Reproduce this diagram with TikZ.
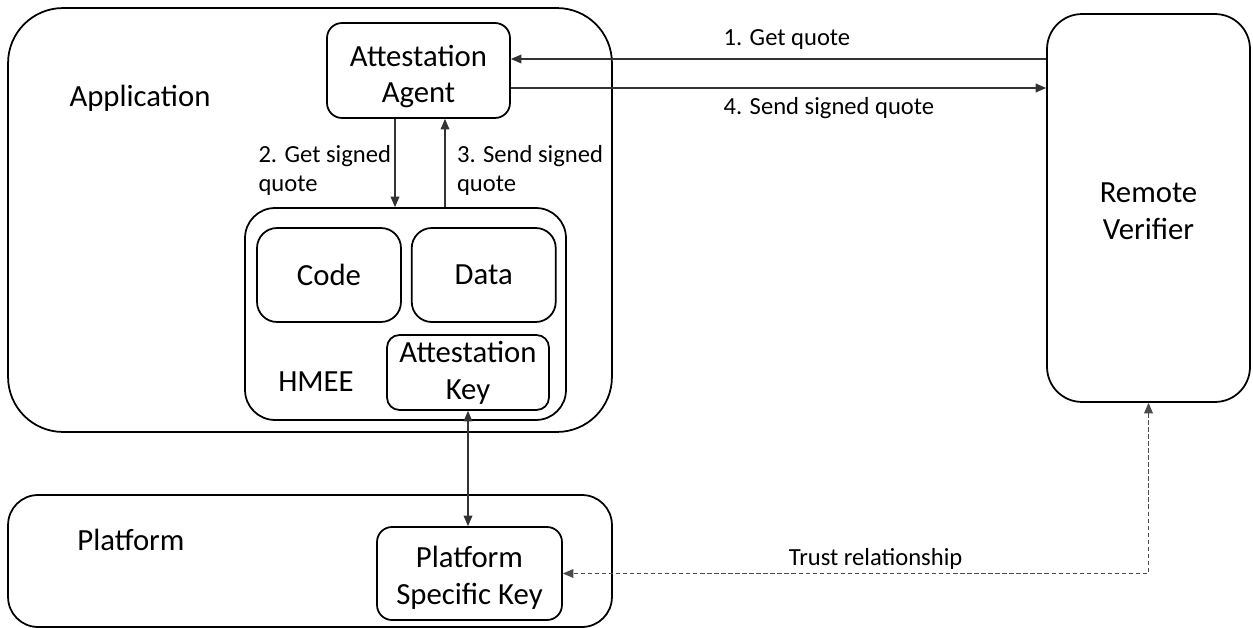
\documentclass[tikz,border=0pt]{standalone}
\usepackage{fontspec}
\setmainfont{Carlito}
\usetikzlibrary{positioning, calc, arrows.meta}

\newcommand{\boxfont}{\fontsize{17.5}{21}\selectfont}
\newcommand{\labelfont}{\fontsize{14}{16.5}\selectfont}

\begin{document}
\begin{tikzpicture}[x=0.02cm, y=-0.02cm,
    box/.style={rectangle, draw, line width=1pt, align=center, inner sep=0pt, font=\boxfont},
    box_text/.style={font=\boxfont, align=center, inner sep=0pt, yshift=-#1},
    plain_label/.style={font=\boxfont},
    msg_label/.style={font=\labelfont, align=left, inner sep=2pt},
    arrow_pointer/.style={draw=black!80, line width=0.6pt, -{Triangle[length=6pt, width=5pt]}},
    both_pointer/.style={draw=black!80, line width=0.6pt, {Triangle[length=6pt, width=5pt]}-{Triangle[length=6pt, width=5pt]}},
    trust_line/.style={draw=black!70, line width=0.6pt, dash pattern=on 2.5pt off 1.5pt}]

    \useasboundingbox (0,0) rectangle (1253,628);

    % Application
    \node[box, minimum width=12.08cm, minimum height=8.48cm, rounded corners=1.1cm] (app) at (310,220) {};
    \node[plain_label] (app_label) at (140,98) {Application};
    \node[box, minimum width=3.66cm, minimum height=1.9cm, rounded corners=0.3cm,
        label={[box_text=0.12cm]center:Attestation\\Agent}] (agent) at (418.5,70.5) {};

    % HMEE
    \node[box, minimum width=6.42cm, minimum height=4.24cm, rounded corners=0.6cm] (hmee) at (405.5,314) {};
    \node[box, minimum width=2.88cm, minimum height=1.88cm, rounded corners=0.4cm] (code) at (329,275) {Code};
    \node[box, minimum width=2.88cm, minimum height=1.88cm, rounded corners=0.4cm, right=0.18cm of code] (data) {Data};
    \node[box, minimum width=3.24cm, minimum height=1.5cm, rounded corners=0.25cm] (att_key) at (468,372.5) {Attestation\\Key};
    \node[plain_label] (hmee_label) at (316,382) {HMEE};

    % Agent <-> HMEE
    \draw[arrow_pointer] ([xshift=-0.47cm]agent.south) -- ([xshift=-0.47cm]agent.south |- hmee.north)
        node[msg_label, midway, left, yshift=-0.14cm] {2. Get signed\\quote};
    \draw[arrow_pointer] ([xshift=0.53cm]agent.south |- hmee.north) -- ([xshift=0.53cm]agent.south)
        node[msg_label, midway, right, xshift=0.16cm, yshift=-0.14cm] {3. Send signed\\quote};

    % Platform
    \node[box, minimum width=12.08cm, minimum height=2.64cm, rounded corners=0.6cm] (platform) at (310,561) {};
    \node[plain_label] (platform_label) at (131,540) {Platform};
    \node[box, minimum width=3.7cm, minimum height=1.86cm, rounded corners=0.3cm,
        label={[box_text=0.09cm]center:Platform\\Specific Key}] (psk) at (469.5,573.5) {};
    \draw[both_pointer] (att_key.south) -- (att_key.south |- psk.north);

    % Remote Verifier
    \node[box, minimum width=4.06cm, minimum height=7.76cm, rounded corners=0.7cm,
        label={[box_text=0.07cm]center:Remote\\Verifier}] (verifier) at (1148.5,208) {};

    % Quote messages
    \draw[arrow_pointer] ([yshift=0.23cm]agent.east -| verifier.west) -- ([yshift=0.23cm]agent.east)
        node[msg_label, pos=0.61, above right, yshift=0.1cm] {1. Get quote};
    \draw[arrow_pointer] ([yshift=-0.35cm]agent.east) -- ([yshift=-0.35cm]agent.east -| verifier.west)
        node[msg_label, pos=0.39, below right, yshift=-0.1cm] {4. Send signed quote};

    % Trust relationship
    \draw[trust_line, {Triangle[length=6pt, width=5pt]}-{Triangle[length=6pt, width=5pt]}] (verifier.south) |- (psk.east)
        node[msg_label, pos=0.733, above] {Trust relationship};

\end{tikzpicture}
\end{document}
